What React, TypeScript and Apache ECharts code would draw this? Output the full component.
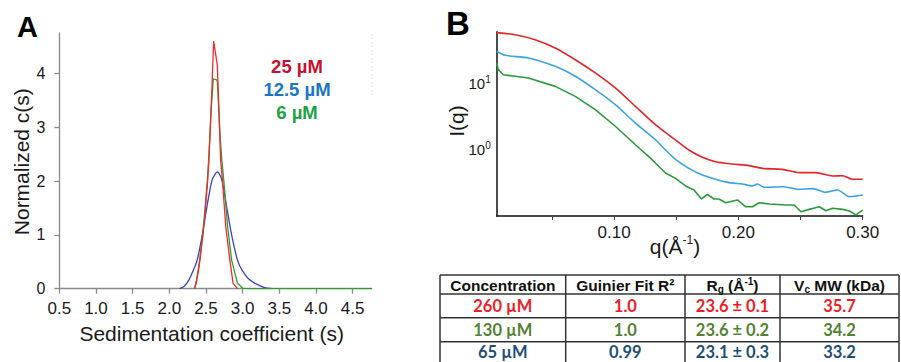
import React, { useEffect, useRef } from 'react';
import * as echarts from 'echarts';

const FONT = "'Liberation Sans', Arial, sans-serif";
const TFONT = "Lato, 'Open Sans', sans-serif";

// ---------- Panel A: sedimentation c(s) ----------
const sedTicks = [0.5, 1.0, 1.5, 2.0, 2.5, 3.0, 3.5, 4.0, 4.5];
const cTicks = [0, 1, 2, 3, 4];
const legendLabelsA = ['25 µM', '12.5 µM', '6 µM'];
const legendColorsA = ['#c8102e', '#1b76c6', '#1fa247'];

const sedRed: [number, number][] = [
  [2.344, 0], [2.367, 0.1], [2.399, 0.35], [2.418, 0.53], [2.459, 1.0], [2.491, 1.46],
  [2.523, 2.0], [2.541, 2.39], [2.575, 3.5], [2.605, 4.6], [2.655, 4.15], [2.68, 3.2],
  [2.7, 2.39], [2.725, 2.0], [2.77, 1.15], [2.826, 0.53], [2.87, 0.1], [2.93, 0],
];
const sedGreen: [number, number][] = [
  [2.34, 0], [2.362, 0.1], [2.394, 0.35], [2.413, 0.53], [2.454, 1.0], [2.486, 1.46],
  [2.518, 2.0], [2.536, 2.39], [2.57, 3.3], [2.6, 3.9], [2.645, 3.88], [2.655, 3.85],
  [2.69, 2.9], [2.716, 2.39], [2.744, 2.0], [2.795, 1.15], [2.85, 0.53], [2.93, 0.1],
  [3.01, 0], [4.76, 0],
];
const sedBlue: [number, number][] = [
  [2.138, 0], [2.2, 0.04], [2.266, 0.16], [2.33, 0.35], [2.38, 0.53], [2.45, 1.0],
  [2.505, 1.46], [2.579, 2.0], [2.62, 2.12], [2.655, 2.17], [2.72, 2.0], [2.79, 1.46],
  [2.85, 1.0], [2.93, 0.53], [2.99, 0.35], [3.1, 0.16], [3.28, 0.03], [3.41, 0],
];

// ---------- Panel B: SAXS I(q) ----------
const qLabelTicks = [0.1, 0.2, 0.3];
const qMinorTicks = [0.05, 0.1, 0.15, 0.2, 0.25, 0.3];

const saxsRed: [number, number][] = [
  [0.0056, 60], [0.0204, 55.8], [0.0365, 46.9], [0.0527, 35.1], [0.0688, 23.3], [0.0849, 14.7],
  [0.101, 8.7], [0.1172, 4.59], [0.1333, 2.42], [0.1494, 1.42], [0.1602, 1.0], [0.171, 0.775],
  [0.1817, 0.665], [0.1952, 0.614], [0.2085, 0.579], [0.2194, 0.527], [0.2355, 0.509],
  [0.2489, 0.454], [0.2623, 0.454], [0.2758, 0.404], [0.2839, 0.408], [0.2919, 0.36], [0.3, 0.36],
];
const saxsBlue: [number, number][] = [
  [0.0056, 31.3], [0.0123, 27.2], [0.0311, 24.8], [0.0527, 18.5], [0.0688, 13.1], [0.0849, 8.2],
  [0.101, 4.86], [0.1172, 2.56], [0.1333, 1.43], [0.1414, 1.0], [0.1494, 0.723], [0.1602, 0.527],
  [0.171, 0.418], [0.1817, 0.36], [0.1925, 0.32], [0.2032, 0.305], [0.2113, 0.285], [0.2153, 0.305],
  [0.2207, 0.272], [0.2355, 0.278], [0.2489, 0.254], [0.2597, 0.26], [0.2704, 0.229],
  [0.2798, 0.248], [0.2893, 0.196], [0.3, 0.208],
];
const saxsGreen: [number, number][] = [
  [0.0056, 20.8], [0.0069, 16.5], [0.0109, 13.8], [0.0204, 13.1], [0.0311, 12.3], [0.0527, 9.2],
  [0.0688, 6.5], [0.0849, 4.08], [0.101, 2.29], [0.1172, 1.2], [0.1306, 0.713], [0.1414, 0.449],
  [0.1494, 0.372], [0.1575, 0.285], [0.1642, 0.248], [0.1704, 0.181], [0.175, 0.213],
  [0.1804, 0.181], [0.1844, 0.181], [0.1898, 0.159], [0.1992, 0.175], [0.206, 0.138],
  [0.2113, 0.138], [0.2167, 0.159], [0.2248, 0.152], [0.2382, 0.147], [0.2449, 0.147],
  [0.2503, 0.116], [0.257, 0.126], [0.2651, 0.138], [0.2704, 0.12], [0.2758, 0.131],
  [0.2839, 0.126], [0.2893, 0.119], [0.2946, 0.104], [0.3, 0.123],
];

// ---------- Table ----------
const tableHeaders = [
  '{m|Concentration}',
  '{m|Guinier Fit R²}',
  '{m|R}{sub|g}{m| (Å}{sup|-1}{m|)}',
  '{m|V}{sub|c}{m| MW (kDa)}',
];
const concentrations = ['260 µM', '130 µM', '65 µM'];
const guinierR2 = ['1.0', '1.0', '0.99'];
const rgValues = ['23.6 ± 0.1', '23.6 ± 0.2', '23.1 ± 0.3'];
const vcMW = ['35.7', '34.2', '33.2'];
const rowColors = ['#ee1d25', '#548235', '#1f4e79'];

function buildGraphics() {
  const g: any[] = [];
  const txt = (x: number, y: number, text: string, o: any = {}, extra: any = {}) => ({
    type: 'text', x, y, ...extra,
    style: {
      text, fontFamily: FONT, fontSize: 16, fill: '#1a1a1a',
      align: 'center', verticalAlign: 'middle', textAlign: 'center', textVerticalAlign: 'middle', ...o,
    },
  });
  // panel letters
  g.push(txt(27.5, 27, 'A', { fontSize: 29, fontWeight: 'bold', fill: '#000' }));
  g.push(txt(458, 23, 'B', { fontSize: 33, fontWeight: 'bold', fill: '#000' }));
  // legend panel A
  const ly = [66, 89.5, 112.5];
  legendLabelsA.forEach((l, i) => g.push(txt(297, ly[i], l, { fontSize: 18.5, fontWeight: 'bold', fill: legendColorsA[i] })));
  // axis titles
  g.push(txt(21.7, 161.7, 'Normalized c(s)', { fontSize: 21 }, { rotation: Math.PI / 2 }));
  g.push(txt(211.7, 333.5, 'Sedimentation coefficient (s)', { fontSize: 21 }));
  g.push(txt(456.7, 121, 'I(q)', { fontSize: 21 }, { rotation: Math.PI / 2 }));
  g.push(txt(675, 246, '{m|q(Å}{s|-1}{m|)}', {
    rich: {
      m: { fontFamily: FONT, fontSize: 21, fill: '#1a1a1a', lineHeight: 24 },
      s: { fontFamily: FONT, fontSize: 12, fill: '#1a1a1a', verticalAlign: 'top', lineHeight: 12 },
    },
  }));
  // faint dotted border line on panel A
  g.push({ type: 'line', shape: { x1: 372, y1: 34, x2: 372, y2: 96 }, style: { stroke: '#d8d8d8', lineWidth: 1, lineDash: [1, 3] } });

  // table
  const hy = [275, 294, 317.7, 341.7];
  const vx = [440, 565.7, 685, 780, 899];
  hy.forEach((y) => g.push({ type: 'line', shape: { x1: 440, y1: y, x2: 899, y2: y }, style: { stroke: '#333', lineWidth: 1.5 } }));
  vx.forEach((x) => g.push({ type: 'line', shape: { x1: x, y1: 275, x2: x, y2: 365 }, style: { stroke: '#333', lineWidth: 1.5 } }));
  const cx = vx.slice(0, 4).map((x, i) => (x + vx[i + 1]) / 2);
  const headRich = {
    m: { fontFamily: FONT, fontSize: 15.5, fontWeight: 'bold', fill: '#111', lineHeight: 18 },
    sub: { fontFamily: FONT, fontSize: 10, fontWeight: 'bold', fill: '#111', verticalAlign: 'bottom', lineHeight: 10 },
    sup: { fontFamily: FONT, fontSize: 10, fontWeight: 'bold', fill: '#111', verticalAlign: 'top', lineHeight: 10 },
  };
  tableHeaders.forEach((h, i) => g.push(txt(cx[i], 285, h, { rich: headRich })));
  const ry = [306, 330, 352];
  const cols = [concentrations, guinierR2, rgValues, vcMW];
  cols.forEach((col, ci) => col.forEach((v, ri) =>
    g.push(txt(cx[ci], ry[ri], v, { fontFamily: TFONT, fontSize: 16.5, fontWeight: 'bold', fill: rowColors[ri], lineHeight: 17 }))));
  return g;
}

export default function App() {
  const ref = useRef<HTMLDivElement>(null);
  useEffect(() => {
    if (!ref.current) return;
    const chart = echarts.init(ref.current, null, { renderer: 'svg' });
    const grayAxis = '#8a8a8a';
    const option: any = {
      animation: false,
      backgroundColor: '#ffffff',
      grid: [
        { left: 59.3, top: 33, width: 312.4, height: 255.7, outerBoundsMode: 'none' },
        { left: 496.7, top: 31.7, width: 366, height: 184.3, outerBoundsMode: 'none' },
      ],
      xAxis: [
        {
          type: 'value', gridIndex: 0, min: 0.5, max: 4.76,
          axisLine: { show: true, onZero: false, lineStyle: { color: grayAxis, width: 1.3 } },
          axisTick: { show: true, customValues: sedTicks, length: 5, lineStyle: { color: grayAxis, width: 1.3 } },
          axisLabel: { customValues: sedTicks, formatter: (v: number) => v.toFixed(1), fontSize: 17, fontFamily: FONT, color: '#1a1a1a', margin: 11 },
          splitLine: { show: false },
        },
        {
          type: 'value', gridIndex: 1, min: 0.0056, max: 0.3,
          axisLine: { show: true, onZero: false, lineStyle: { color: '#111', width: 1.5 } },
          axisTick: { show: true, customValues: qMinorTicks, length: 4, lineStyle: { color: '#444', width: 1 } },
          axisLabel: { customValues: qLabelTicks, formatter: (v: number) => v.toFixed(2), fontSize: 17, fontFamily: FONT, color: '#1a1a1a', margin: 8 },
          splitLine: { show: false },
        },
      ],
      yAxis: [
        {
          type: 'value', gridIndex: 0, min: 0, max: 4.75,
          axisLine: { show: true, onZero: false, lineStyle: { color: grayAxis, width: 1.3 } },
          axisTick: { show: true, customValues: cTicks, length: 5, lineStyle: { color: grayAxis, width: 1.3 } },
          axisLabel: { customValues: cTicks, formatter: (v: number) => String(v), fontSize: 16, fontFamily: FONT, color: '#1a1a1a', margin: 14 },
          splitLine: { show: false },
        },
        {
          type: 'log', logBase: 10, gridIndex: 1, min: 0.1, max: 62,
          axisLine: { show: true, onZero: false, lineStyle: { color: '#111', width: 1.5 } },
          axisTick: { show: false },
          axisLabel: {
            margin: 6,
            formatter: (v: number) => {
              const e = Math.round(Math.log10(v));
              if (Math.abs(Math.log10(v) - e) > 1e-6) return '';
              if (e === 0 || e === 1) return `{b|10}{s|${e}}`;
              return '';
            },
            rich: {
              b: { fontSize: 15, fontFamily: FONT, color: '#1a1a1a', lineHeight: 18 },
              s: { fontSize: 10, fontFamily: FONT, color: '#1a1a1a', verticalAlign: 'top', lineHeight: 10 },
            },
          },
          splitLine: { show: false },
          minorTick: { show: false },
        },
      ],
      series: [
        { name: '12.5 µM', type: 'line', xAxisIndex: 0, yAxisIndex: 0, data: sedBlue, showSymbol: false, smooth: 0.3, lineStyle: { color: '#3f3fc4', width: 1.3 }, itemStyle: { color: '#3f3fc4' } },
        { name: '6 µM', type: 'line', xAxisIndex: 0, yAxisIndex: 0, data: sedGreen, showSymbol: false, lineStyle: { color: '#2a9e34', width: 1.3 }, itemStyle: { color: '#2a9e34' } },
        { name: '25 µM', type: 'line', xAxisIndex: 0, yAxisIndex: 0, data: sedRed, showSymbol: false, lineStyle: { color: '#f22a2a', width: 1.3 }, itemStyle: { color: '#f22a2a' } },
        { name: '260 µM', type: 'line', xAxisIndex: 1, yAxisIndex: 1, data: saxsRed, showSymbol: false, smooth: 0.25, lineStyle: { color: '#e3262b', width: 1.6 }, itemStyle: { color: '#e3262b' } },
        { name: '65 µM', type: 'line', xAxisIndex: 1, yAxisIndex: 1, data: saxsBlue, showSymbol: false, smooth: 0.25, lineStyle: { color: '#3aa3e0', width: 1.6 }, itemStyle: { color: '#3aa3e0' } },
        { name: '130 µM', type: 'line', xAxisIndex: 1, yAxisIndex: 1, data: saxsGreen, showSymbol: false, lineStyle: { color: '#2b9a3b', width: 1.6 }, itemStyle: { color: '#2b9a3b' } },
      ],
      graphic: buildGraphics(),
    };
    chart.setOption(option);
    return () => chart.dispose();
  }, []);
  return <div ref={ref} style={{ position: 'absolute', left: 0, top: 0, width: 901, height: 362 }} />;
}
